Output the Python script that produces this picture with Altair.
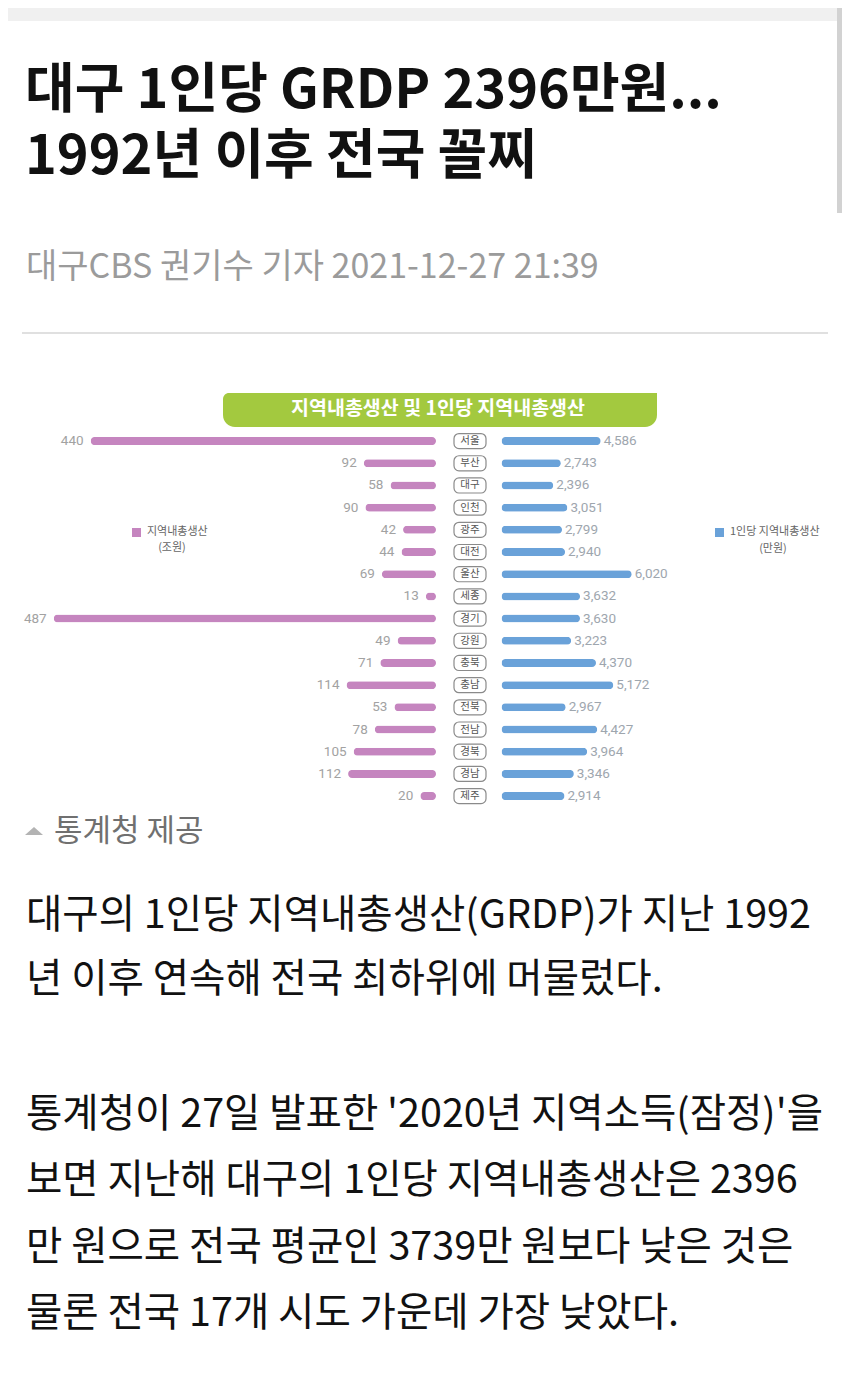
import altair as alt
import pandas as pd

# ---------------- data ----------------
regions = ["서울", "부산", "대구", "인천", "광주", "대전", "울산", "세종", "경기",
           "강원", "충북", "충남", "전북", "전남", "경북", "경남", "제주"]
grdp = [440, 92, 58, 90, 42, 44, 69, 13, 487, 49, 71, 114, 53, 78, 105, 112, 20]
per_capita = [4586, 2743, 2396, 3051, 2799, 2940, 6020, 3632, 3630, 3223, 4370,
              5172, 2967, 4427, 3964, 3346, 2914]

headline = ["대구 1인당 GRDP 2396만원...", "1992년 이후 전국 꼴찌"]
byline = "대구CBS 권기수 기자 2021-12-27 21:39"
chart_title = "지역내총생산 및 1인당 지역내총생산"
legend_left = ["지역내총생산", "(조원)"]
legend_right = ["1인당 지역내총생산", "(만원)"]
caption = "통계청 제공"
body_p1 = [
    "대구의 1인당 지역내총생산(GRDP)가 지난 1992",
    "년 이후 연속해 전국 최하위에 머물렀다.",
]
body_p2 = [
    "통계청이 27일 발표한 '2020년 지역소득(잠정)'을",
    "보면 지난해 대구의 1인당 지역내총생산은 2396",
    "만 원으로 전국 평균인 3739만 원보다 낮은 것은",
    "물론 전국 17개 시도 가운데 가장 낮았다.",
]

df = pd.DataFrame({"region": regions, "grdp": grdp, "pc": per_capita})

# ---------------- style ----------------
KR = "Noto Sans CJK KR"
NUM = "Roboto"
PURPLE = "#c585bf"
BLUE = "#6aa2d9"
GREEN = "#a3c93f"
OFF = 8  # page margin


def P(v):
    return v - OFF


def one():
    return pd.DataFrame({"d": [0]})


def note(text, x, y, **kw):
    base = dict(align="left", baseline="middle", font=KR)
    base.update(kw)
    return alt.Chart(one()).mark_text(text=text, **base).encode(
        x=alt.value(P(x)), y=alt.value(P(y)))


def box(x0, x1, y0, y1, **kw):
    return alt.Chart(one()).mark_rect(**kw).encode(
        x=alt.value(P(x0)), x2=alt.value(P(x1)), y=alt.value(P(y0)), y2=alt.value(P(y1)))


layers = []

# page chrome
layers.append(box(0, 842, 8, 21, color="#f0f0f0"))
layers.append(box(837, 842, 8, 213, color="#d2d2d2"))

# headline & byline (multi-line texts, y = first baseline)
layers.append(note(headline, 25, 108, baseline="alphabetic", lineHeight=66,
                   fontSize=54, fontWeight="bold", color="#111111"))
layers.append(note(byline, 26, 268, fontSize=34, color="#9b9b9b"))
layers.append(alt.Chart(one()).mark_rule(color="#e0e0e0", strokeWidth=2).encode(
    x=alt.value(P(22)), x2=alt.value(P(828)), y=alt.value(P(333))))

# chart banner
layers.append(box(223, 657, 393, 427, color=GREEN, cornerRadiusBottomLeft=12,
                  cornerRadiusBottomRight=12, cornerRadiusTopLeft=6))
layers.append(note(chart_title, 438, 409, align="center", fontSize=19.5,
                   fontWeight="bold", color="white"))

# scales
y_bar = alt.Scale(domain=regions, range=[P(430), P(807.2)], paddingInner=0, paddingOuter=0)
y_box = alt.Scale(domain=regions, range=[P(430), P(807.2)], paddingInner=0.32, paddingOuter=0.16)
x_left = alt.Scale(domain=[0, 487], range=[P(436), P(53.7)])
x_right = alt.Scale(domain=[0, 6020], range=[P(501.5), P(631.7)])

base = alt.Chart(df)

left_bars = base.mark_bar(size=8, cornerRadius=4, color=PURPLE).encode(
    x=alt.X("grdp:Q", scale=x_left, axis=None),
    y=alt.Y("region:N", scale=y_bar, axis=None))
left_text = base.mark_text(align="right", baseline="middle", dx=-7, font=NUM,
                           fontSize=13.5, color="#a2a2a2").encode(
    x=alt.X("grdp:Q", scale=x_left, axis=None),
    y=alt.Y("region:N", scale=y_bar, axis=None),
    text=alt.Text("grdp:Q", format="d"))
right_bars = base.mark_bar(size=8, cornerRadius=4, color=BLUE).encode(
    x=alt.X("pc:Q", scale=x_right, axis=None),
    y=alt.Y("region:N", scale=y_bar, axis=None))
right_text = base.mark_text(align="left", baseline="middle", dx=3, font=NUM,
                            fontSize=13.5, color="#9ea6ae").encode(
    x=alt.X("pc:Q", scale=x_right, axis=None),
    y=alt.Y("region:N", scale=y_bar, axis=None),
    text=alt.Text("pc:Q", format=","))
label_box = base.mark_rect(fill="white", stroke="#8a8a8a", strokeWidth=1.2,
                           cornerRadius=5).encode(
    x=alt.value(P(454)), x2=alt.value(P(486)),
    y=alt.Y("region:N", scale=y_box, axis=None))
label_text = base.mark_text(align="center", baseline="middle", font=KR,
                            fontSize=10.5, color="#555555").encode(
    x=alt.value(P(470)),
    y=alt.Y("region:N", scale=y_bar, axis=None),
    text="region:N")

layers += [left_bars, left_text, right_bars, right_text, label_box, label_text]

# legends
layers.append(box(132, 141, 528, 537, color=PURPLE))
layers.append(note(legend_left[0], 147, 532, fontSize=11, color="#666666"))
layers.append(note(legend_left[1], 172, 548, align="center", fontSize=11, color="#666666"))
layers.append(box(715, 724, 528, 537, color=BLUE))
layers.append(note(legend_right[0], 730, 532, fontSize=11, color="#666666"))
layers.append(note(legend_right[1], 773, 549, align="center", fontSize=11, color="#666666"))

# caption
layers.append(alt.Chart(one()).mark_point(
    shape="M-1,0.45L0,-0.45L1,0.45Z", filled=True, size=324, color="#b3b3b3", opacity=1).encode(
    x=alt.value(P(34)), y=alt.value(P(831))))
layers.append(note(caption, 54, 832, fontSize=31, color="#707070"))

# body text (multi-line paragraphs, y = first baseline)
layers.append(note(body_p1, 26, 928, baseline="alphabetic", lineHeight=64,
                   fontSize=39.5, color="#111111"))
layers.append(note(body_p2, 26, 1127, baseline="alphabetic", lineHeight=66.3,
                   fontSize=39.5, color="#111111"))

chart = alt.layer(*layers).resolve_scale(x="independent", y="independent").properties(
    width=834, height=1370, autosize="none", padding=0, background="white"
).configure_view(stroke=None)

chart.save("out.html", embed_options={"renderer": "svg", "actions": False})
